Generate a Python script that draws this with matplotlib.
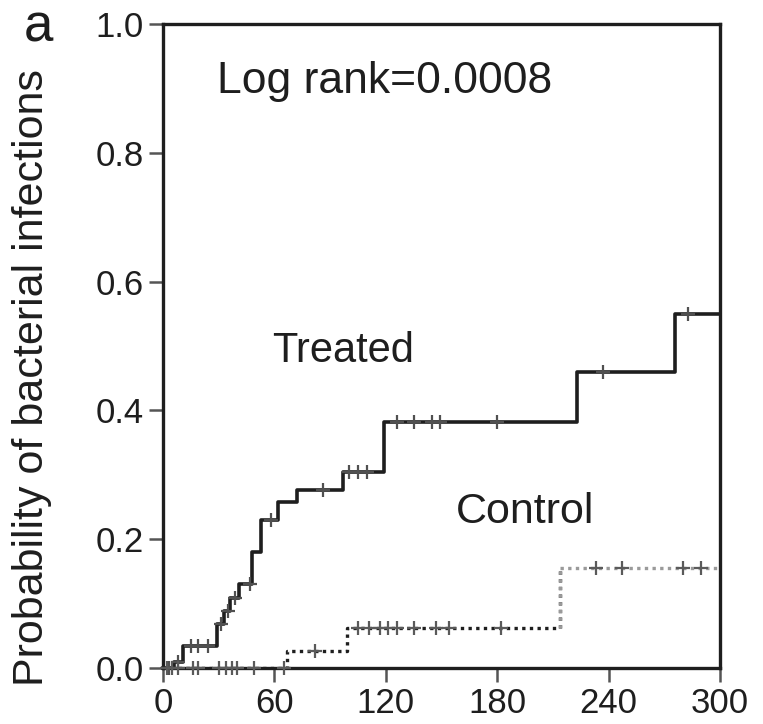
import numpy as np
import matplotlib
matplotlib.use("Agg")
import matplotlib.pyplot as plt

plt.rcParams['font.family'] = ['Liberation Sans', 'DejaVu Sans']

# Kaplan-Meier style step data (days, probability)
treated_t = [0, 6, 11, 29, 33, 36, 41, 48, 53, 62, 72, 97, 119, 223, 276, 300]
treated_p = [0, 0.01, 0.034, 0.069, 0.089, 0.109, 0.130, 0.180, 0.230, 0.258,
             0.277, 0.305, 0.382, 0.459, 0.549, 0.549]
treated_cens = [3, 8, 15, 19, 24, 31, 35, 39, 47, 58, 86, 100, 105, 110,
                126, 135, 145, 149, 180, 237, 283]

control_t = [0, 67, 99, 214, 300]
control_p = [0, 0.026, 0.0625, 0.155, 0.155]
control_cens = [2, 5, 8, 16, 19, 30, 34, 37, 40, 49, 65, 82, 105, 111, 117,
                121, 126, 135, 147, 154, 182, 233, 247, 280, 290]

xticks = [0, 60, 120, 180, 240, 300]
yticks = [0.0, 0.2, 0.4, 0.6, 0.8, 1.0]


def step_val(t, p, x):
    idx = np.searchsorted(t, x, side='right') - 1
    return np.array(p)[idx]


fig = plt.figure(figsize=(7.63, 7.24), dpi=100)
ax = fig.add_axes([0.2136, 0.0773, 0.73, 0.8896])

# treated: solid thick line
ax.plot(treated_t, treated_p, drawstyle='steps-post', color='#1e1e1e', lw=2.6,
        clip_on=False, zorder=3)
ax.plot(treated_cens, step_val(treated_t, treated_p, treated_cens), ls='none',
        marker='+', ms=10, mew=1.6, color='#505050', clip_on=False, zorder=4)

# control: dotted line, dark then grey
ax.plot(control_t[:4], control_p[:4], drawstyle='steps-post', color='#1e1e1e',
        lw=2.4, ls=(0, (1, 1.3)), zorder=3)
ax.plot(control_t[3:], control_p[3:], drawstyle='steps-post', color='#9a9a9a',
        lw=2.4, ls=(0, (1, 1.3)), zorder=3)
ax.plot([control_t[3], control_t[3]], [control_p[2], control_p[3]],
        color='#9a9a9a', lw=2.4, ls=(0, (1, 1.3)), zorder=3)
ax.plot(control_cens, step_val(control_t, control_p, control_cens), ls='none',
        marker='+', ms=10, mew=1.6, color='#5a5a5a', clip_on=False, zorder=4)

ax.set_xlim(0, 300)
ax.set_ylim(0, 1.0)
ax.set_xticks(xticks)
ax.set_xticklabels([str(v) for v in xticks])
ax.set_yticks(yticks)
ax.set_yticklabels([f'{v:.1f}' for v in yticks])

for s in ax.spines.values():
    s.set_linewidth(2.4)
    s.set_color('#1e1e1e')
ax.tick_params(direction='out', length=10, width=1.8, color='#555555',
               labelsize=25, labelcolor='#1e1e1e', pad=4)

ax.text(29, 0.91, 'Log rank=0.0008', fontsize=32, va='center', ha='left',
        color='#1e1e1e')
ax.text(59, 0.493, 'Treated', fontsize=30, va='center', ha='left',
        color='#1e1e1e')
ax.text(158, 0.243, 'Control', fontsize=31, va='center', ha='left',
        color='#1e1e1e')

fig.text(0.042, 0.4786, 'Probability of bacterial infections', rotation=90,
         fontsize=31, va='center', ha='center', color='#1e1e1e')
fig.text(0.050, 0.962, 'a', fontsize=38, va='center', ha='center',
         color='#1e1e1e')

fig.savefig('out.png', dpi=100)
